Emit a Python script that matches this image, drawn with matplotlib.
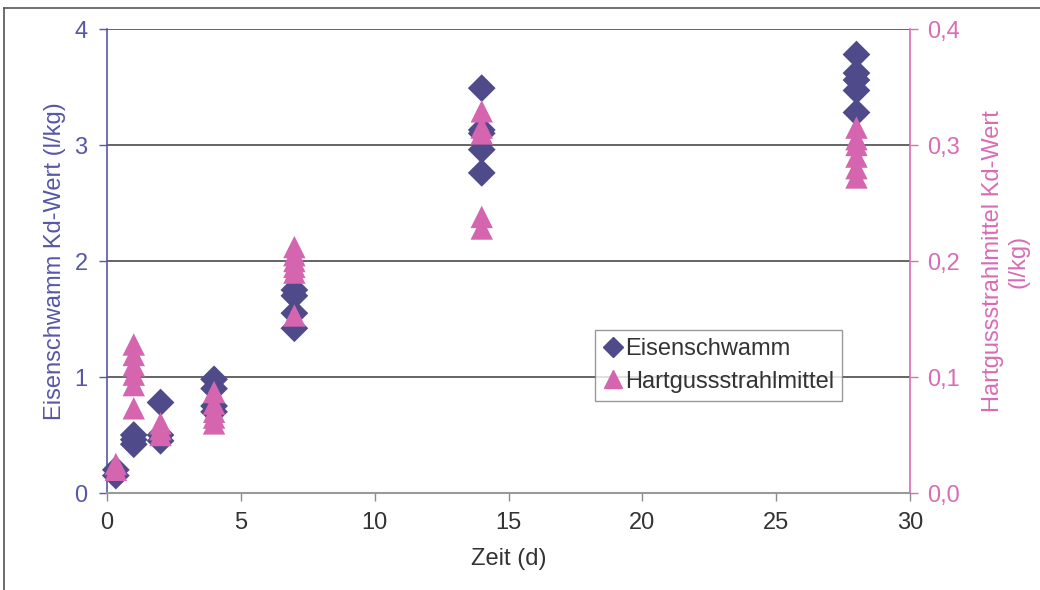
import matplotlib
matplotlib.use("Agg")
import matplotlib.pyplot as plt
from matplotlib.lines import Line2D
from matplotlib.ticker import FuncFormatter

plt.rcParams["font.family"] = ["Liberation Sans", "DejaVu Sans"]

# Kd values over contact time
eisen_t = [0.33, 0.33,
           1, 1, 1,
           2, 2, 2,
           4, 4, 4, 4,
           7, 7, 7, 7,
           14, 14, 14, 14, 14,
           28, 28, 28, 28, 28]
eisen_kd = [0.15, 0.20,
            0.42, 0.46, 0.50,
            0.45, 0.50, 0.78,
            0.70, 0.75, 0.90, 0.98,
            1.42, 1.55, 1.70, 1.75,
            2.76, 2.96, 3.10, 3.13, 3.49,
            3.28, 3.47, 3.56, 3.62, 3.78]

hart_t = [0.33, 0.33,
          1, 1, 1, 1, 1, 1,
          2, 2, 2,
          4, 4, 4, 4, 4,
          7, 7, 7, 7, 7, 7,
          14, 14, 14, 14, 14,
          28, 28, 28, 28, 28, 28]
hart_kd = [0.020, 0.025,
           0.073, 0.093, 0.102, 0.110, 0.119, 0.128,
           0.050, 0.055, 0.060,
           0.060, 0.065, 0.070, 0.077, 0.087,
           0.153, 0.190, 0.195, 0.200, 0.205, 0.212,
           0.228, 0.238, 0.310, 0.315, 0.329,
           0.272, 0.280, 0.290, 0.300, 0.305, 0.315]

x_ticks = [0, 5, 10, 15, 20, 25, 30]
left_ticks = [0, 1, 2, 3, 4]
right_ticks = [0.0, 0.1, 0.2, 0.3, 0.4]

c_eisen = "#4F4B8B"
c_hart = "#D465AE"
c_left = "#5657A6"
c_right = "#D86CB6"
c_text = "#333333"
c_grid = "#4a4a4a"
fs = 17

fig = plt.figure(figsize=(10.4, 5.9), dpi=100)
fig.patch.set_facecolor("white")

# outer frame (left and top edges)
fig.add_artist(Line2D([4 / 1040, 4 / 1040], [0, 1 - 8 / 590], transform=fig.transFigure,
                      color="#555555", lw=1.2))
fig.add_artist(Line2D([4 / 1040, 1], [1 - 8 / 590, 1 - 8 / 590], transform=fig.transFigure,
                      color="#555555", lw=1.2))

ax = fig.add_axes([107 / 1040, 1 - 493 / 590, 803 / 1040, 464 / 590])
ax2 = ax.twinx()

ax.set_xlim(0, 30)
ax.set_ylim(0, 4)
ax2.set_ylim(0, 0.4)

ax.set_xticks(x_ticks)
ax.set_yticks(left_ticks)
ax2.set_yticks(right_ticks)
ax2.yaxis.set_major_formatter(FuncFormatter(lambda v, p: f"{v:.1f}".replace(".", ",")))

for y in left_ticks[1:]:
    ax.axhline(y, color=c_grid, lw=1.2, zorder=1)

for a in (ax, ax2):
    for s in a.spines.values():
        s.set_visible(False)
ax.spines["left"].set_visible(True)
ax.spines["left"].set_color(c_left)
ax.spines["left"].set_linewidth(1.2)
ax.spines["bottom"].set_visible(True)
ax.spines["bottom"].set_color("#9a9a9a")
ax.spines["bottom"].set_linewidth(1.5)
ax2.spines["right"].set_visible(True)
ax2.spines["right"].set_color(c_right)
ax2.spines["right"].set_linewidth(1.2)

ax.tick_params(axis="x", direction="out", length=6, width=1, color="#8a8a8a",
               labelsize=fs, labelcolor=c_text, pad=8)
ax.tick_params(axis="y", direction="out", length=6, width=1, color=c_left,
               labelsize=fs, labelcolor=c_left, pad=8)
ax2.tick_params(axis="y", direction="out", length=6, width=1, color=c_right,
                labelsize=fs, labelcolor=c_right, pad=6)

ax.scatter(eisen_t, eisen_kd, marker="D", s=200, color=c_eisen, edgecolors="none",
           zorder=3, clip_on=False)
ax2.scatter(hart_t, hart_kd, marker="^", s=260, color=c_hart, edgecolors="none",
            zorder=3, clip_on=False)

ax.set_xlabel("Zeit (d)", fontsize=fs, color=c_text, labelpad=10)
ax.set_ylabel("Eisenschwamm Kd-Wert (l/kg)", fontsize=fs, color=c_left, labelpad=6)
ax2.set_ylabel("Hartgussstrahlmittel Kd-Wert\n(l/kg)", fontsize=fs, color=c_right,
               labelpad=16, linespacing=1.2)

handles = [
    Line2D([], [], marker="D", linestyle="none", color=c_eisen, markersize=10),
    Line2D([], [], marker="^", linestyle="none", color=c_hart, markersize=13),
]
leg = ax2.legend(handles, ["Eisenschwamm", "Hartgussstrahlmittel"],
                 loc="upper left", bbox_to_anchor=(0.608, 0.352),
                 fontsize=fs, frameon=True, fancybox=False,
                 handletextpad=0.1, handlelength=0.8, borderpad=0.35,
                 labelspacing=0.45, borderaxespad=0)
leg.get_frame().set_edgecolor("#808080")
leg.get_frame().set_linewidth(1.0)
for t in leg.get_texts():
    t.set_color(c_text)

fig.savefig("out.png", dpi=100, facecolor="white")
